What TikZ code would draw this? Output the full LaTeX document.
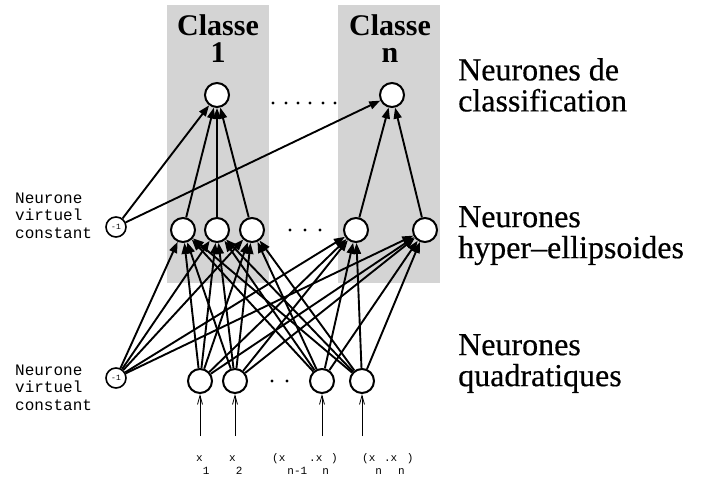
\documentclass[tikz,border=0pt]{standalone}
\usepackage{fontspec}
\setmainfont{Liberation Serif}
\newfontfamily\monof{Liberation Mono}
\newfontfamily\sidef[FakeBold=0.5,Ligatures=TeX]{Liberation Serif}
\usetikzlibrary{arrows.meta}
\begin{document}
\begin{tikzpicture}[x=1pt,y=-1pt,
  neuron/.style={circle,draw,line width=2pt,fill=white,minimum size=24pt,inner sep=0pt},
  constn/.style={circle,draw,line width=1.6pt,fill=white,minimum size=20pt,inner sep=0pt,font=\monof\fontsize{8}{9}\selectfont},
  conn/.style={line width=1.9pt,-{Triangle[length=11pt,width=8pt]}},
  inarrow/.style={line width=0.8pt,-{Straight Barb[length=9pt,width=5pt]}},
  side/.style={font=\sidef\fontsize{32}{31}\selectfont,align=left,anchor=north west,inner sep=0pt},
  classlbl/.style={font=\bfseries\fontsize{30}{27}\selectfont,align=center,anchor=north,inner sep=0pt},
  constlbl/.style={font=\monof\fontsize{16}{17.5}\selectfont,align=left,anchor=west,inner sep=0pt},
  inlbl/.style={font=\monof\fontsize{11}{12}\selectfont,anchor=base west,inner sep=0pt},
  dotfill/.style={fill=black}
]
\useasboundingbox (0,0) rectangle (707,478);
% gray class boxes
\fill[black!17] (167,5) rectangle (269,283);
\fill[black!17] (338,5) rectangle (440,283);

% class labels
\node[classlbl] (cl1) at (218,14) {Classe\\1};
\node[classlbl] (cln) at (390,14) {Classe\\n};

% side labels
\node[side] (s1) at (458,58) {Neurones de\\classification};
\node[side] (s2) at (458,206) {Neurones\\hyper–ellipsoides};
\node[side] (s3) at (458,334) {Neurones\\quadratiques};

% constant labels
\node[constlbl] (k1) at (15,215.5) {Neurone\\virtuel\\constant};
\node[constlbl] (k2) at (15,387.5) {Neurone\\virtuel\\constant};

% neurons
\node[neuron] (C1) at (217,95) {};
\node[neuron] (Cn) at (392,95) {};
\node[neuron] (H1) at (183,230) {};
\node[neuron] (H2) at (217,230) {};
\node[neuron] (H3) at (252,230) {};
\node[neuron] (H4) at (356,230) {};
\node[neuron] (H5) at (425,230) {};
\node[neuron] (Q1) at (200,381) {};
\node[neuron] (Q2) at (235,381) {};
\node[neuron] (Q3) at (322,381) {};
\node[neuron] (Q4) at (362,381) {};
\node[constn] (K1) at (116,227) {-1};
\node[constn] (K2) at (116,378) {-1};

% dots
\foreach \x in {273,286,298,310,323,335} \fill[dotfill] (\x,103) circle (1.7);
\foreach \x in {290,305,320} \fill[dotfill] (\x,230) circle (1.7);
\foreach \x in {272,287} \fill[dotfill] (\x,381) circle (1.7);

% connections to classification layer
\foreach \s in {K1,H1,H2,H3} \draw[conn] (\s) -- (C1);
\foreach \s in {K1,H4,H5} \draw[conn] (\s) -- (Cn);
% connections to hyper-ellipsoid layer
\foreach \t in {H1,H2,H3,H4,H5}
  \foreach \s in {K2,Q1,Q2,Q3,Q4}
    \draw[conn] (\s) -- (\t);

% inputs
\coordinate (i1) at (200,436);
\coordinate (i2) at (235,436);
\coordinate (i3) at (322,436);
\coordinate (i4) at (362,436);
\draw[inarrow] (i1) -- (Q1);
\draw[inarrow] (i2) -- (Q2);
\draw[inarrow] (i3) -- (Q3);
\draw[inarrow] (i4) -- (Q4);

\node[inlbl] (x1) at (196,461) {x\raisebox{-13pt}{1}};
\node[inlbl] (x2) at (229,461) {x\raisebox{-13pt}{2}};
\node[inlbl] (x3) at (272,461) {(x\hspace{2pt}\raisebox{-13pt}{n-1}\hspace{2pt}.x\raisebox{-13pt}{n}\hspace{2pt})};
\node[inlbl] (x4) at (362,461) {(x\raisebox{-13pt}{n}\hspace{2pt}.x\hspace{1pt}\raisebox{-13pt}{n}\hspace{2pt})};
\end{tikzpicture}
\end{document}
